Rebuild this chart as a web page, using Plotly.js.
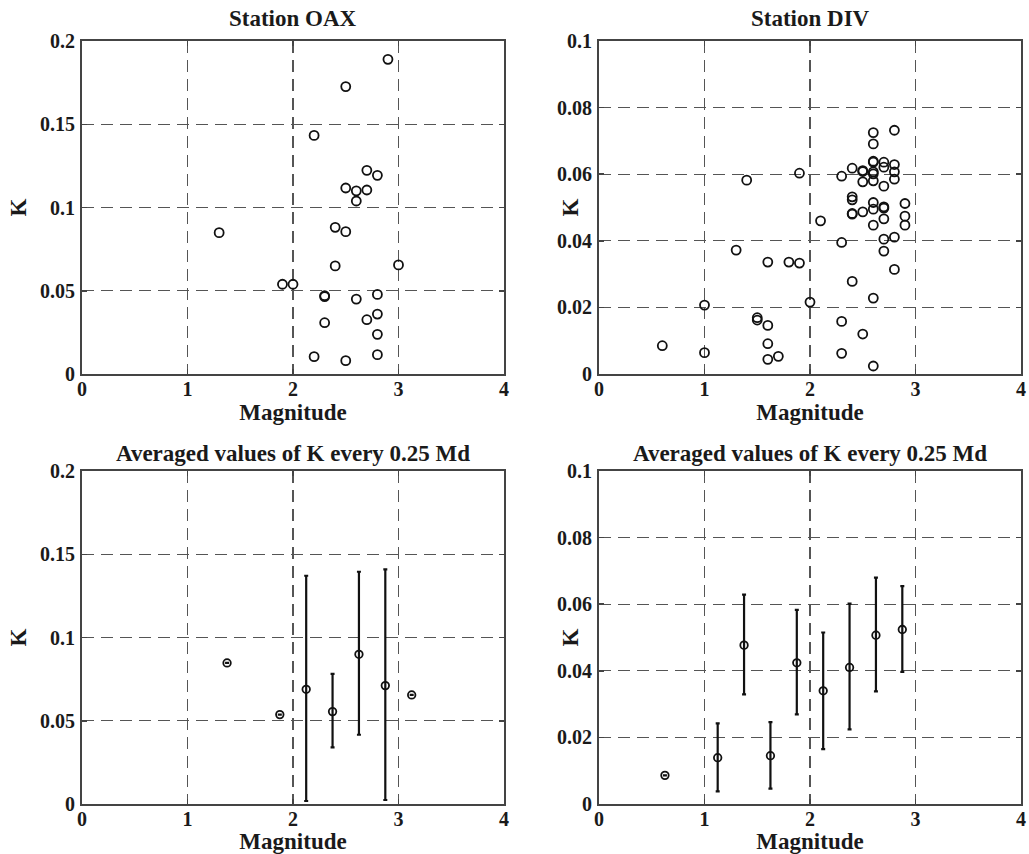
<!DOCTYPE html>
<html>
<head>
<meta charset="utf-8">
<script src="https://cdn.plot.ly/plotly-3.0.1.min.js"></script>
<style>html,body{margin:0;padding:0;background:#fff;}#chart{width:1029px;height:854px;}</style>
</head>
<body>
<div id="chart"></div>
<script>
// Station OAX: magnitude vs K
const oaxMag = [2.9, 2.5, 2.2, 2.7, 2.8, 2.5, 2.6, 2.7, 2.6, 1.3, 2.4, 2.5, 2.4, 3.0, 1.9, 2.0, 2.3, 2.3, 2.6, 2.8, 2.3, 2.7, 2.8, 2.8, 2.2, 2.5, 2.8];
const oaxK   = [0.189, 0.1726, 0.1433, 0.1223, 0.1193, 0.1117, 0.110, 0.1105, 0.1039, 0.0849, 0.0881, 0.0855, 0.0649, 0.0655, 0.0539, 0.0539, 0.0470, 0.0465, 0.045, 0.0478, 0.0308, 0.0326, 0.036, 0.0238, 0.0104, 0.008, 0.0116];

// Station DIV: magnitude vs K
const divMag = [0.6, 1.0, 1.0, 1.3, 1.4, 1.5, 1.5, 1.6, 1.6, 1.6, 1.6, 1.7, 1.8, 1.9, 1.9, 2.0, 2.1,
                2.3, 2.3, 2.3, 2.3, 2.4, 2.4, 2.4, 2.4, 2.4, 2.4, 2.5, 2.5, 2.5, 2.5, 2.5,
                2.6, 2.6, 2.6, 2.6, 2.6, 2.6, 2.6, 2.6, 2.6, 2.6, 2.6, 2.6,
                2.7, 2.7, 2.7, 2.7, 2.7, 2.7, 2.7, 2.7,
                2.8, 2.8, 2.8, 2.8, 2.8, 2.8, 2.9, 2.9, 2.9];
const divK   = [0.0085, 0.0207, 0.0064, 0.0372, 0.0582, 0.0169, 0.0162, 0.0146, 0.0336, 0.0091, 0.0044, 0.0053, 0.0336, 0.0333, 0.0603, 0.0216, 0.046,
                0.0594, 0.0395, 0.0158, 0.0062, 0.0618, 0.0532, 0.0523, 0.0482, 0.0480, 0.0278, 0.0611, 0.0608, 0.0577, 0.0487, 0.012,
                0.0725, 0.0691, 0.0639, 0.0636, 0.0607, 0.0601, 0.058, 0.0515, 0.0495, 0.0447, 0.0228, 0.0024,
                0.0636, 0.0621, 0.0564, 0.0502, 0.0498, 0.0466, 0.0405, 0.0369,
                0.0732, 0.0629, 0.0607, 0.0585, 0.0411, 0.0314, 0.0512, 0.0474, 0.0447];

// Averaged values every 0.25 Md (OAX)
const avgOaxMag   = [1.375, 1.875, 2.125, 2.375, 2.625, 2.875, 3.125];
const avgOaxK     = [0.0847, 0.0537, 0.0689, 0.0555, 0.0899, 0.0711, 0.0655];
const avgOaxPlus  = [0, 0, 0.0682, 0.0226, 0.0496, 0.0698, 0];
const avgOaxMinus = [0, 0, 0.0671, 0.0215, 0.0483, 0.0687, 0];

// Averaged values every 0.25 Md (DIV)
const avgDivMag   = [0.625, 1.125, 1.375, 1.625, 1.875, 2.125, 2.375, 2.625, 2.875];
const avgDivK     = [0.0086, 0.0139, 0.0477, 0.0145, 0.0424, 0.0340, 0.0410, 0.0507, 0.0524];
const avgDivPlus  = [0, 0.0103, 0.0152, 0.0101, 0.0159, 0.0175, 0.0192, 0.0173, 0.0130];
const avgDivMinus = [0, 0.0101, 0.0148, 0.0099, 0.0155, 0.0175, 0.0186, 0.0169, 0.0127];

const titles = ['Station OAX', 'Station DIV', 'Averaged values of K every 0.25 Md', 'Averaged values of K every 0.25 Md'];

const FONT = 'Liberation Serif, Times New Roman, serif';
const TXT = '#1a1a1a';

const rawMarker = {symbol: 'circle-open', size: 9, color: '#111', line: {width: 1.8, color: '#111'}};
const avgMarker = {symbol: 'circle-open', size: 7.5, color: '#111', line: {width: 1.8, color: '#111'}};

const traces = [
  {type: 'scatter', mode: 'markers', x: oaxMag, y: oaxK, xaxis: 'x', yaxis: 'y', marker: rawMarker, hoverinfo: 'x+y'},
  {type: 'scatter', mode: 'markers', x: divMag, y: divK, xaxis: 'x2', yaxis: 'y2', marker: rawMarker, hoverinfo: 'x+y'},
  {type: 'scatter', mode: 'markers', x: avgOaxMag, y: avgOaxK, xaxis: 'x3', yaxis: 'y3', marker: avgMarker,
   error_y: {type: 'data', symmetric: false, array: avgOaxPlus, arrayminus: avgOaxMinus, color: '#111', thickness: 2.2, width: 2}},
  {type: 'scatter', mode: 'markers', x: avgDivMag, y: avgDivK, xaxis: 'x4', yaxis: 'y4', marker: avgMarker,
   error_y: {type: 'data', symmetric: false, array: avgDivPlus, arrayminus: avgDivMinus, color: '#111', thickness: 2.2, width: 2}}
];

const W = 1029, H = 854;
const colX = [[82, 504], [599, 1021]];
const rowY = [[41, 374], [471, 804]];
const px2x = v => v / W;
const px2y = v => 1 - v / H;

function xAxis(col, row, anchor) {
  return {
    domain: [px2x(colX[col][0]), px2x(colX[col][1])],
    anchor: anchor,
    range: [0, 4], dtick: 1, tick0: 0,
    showline: true, mirror: 'ticks', linecolor: '#444', linewidth: 2,
    showgrid: true, gridcolor: '#555', gridwidth: 1.3, griddash: '12px,7px',
    zeroline: false, ticks: 'inside', ticklen: 5, tickcolor: '#444', tickwidth: 1.5,
    ticklabelstandoff: -4, ticklabeloverflow: 'allow',
    tickfont: {family: FONT, size: 20, weight: 'bold', color: TXT},
    title: {text: 'Magnitude', font: {family: FONT, size: 23, weight: 'bold', color: TXT}, standoff: 5},
    fixedrange: true
  };
}
function yAxis(col, row, anchor, maxV, step) {
  return {
    domain: [px2y(rowY[row][1]), px2y(rowY[row][0])],
    anchor: anchor,
    range: [0, maxV], dtick: step, tick0: 0,
    showline: true, mirror: 'ticks', linecolor: '#444', linewidth: 2,
    showgrid: true, gridcolor: '#555', gridwidth: 1.3, griddash: '12px,7px',
    zeroline: false, ticks: 'inside', ticklen: 5, tickcolor: '#444', tickwidth: 1.5,
    ticklabelstandoff: 1, ticklabeloverflow: 'allow',
    tickfont: {family: FONT, size: 20, weight: 'bold', color: TXT},
    fixedrange: true
  };
}

const annotations = [];
const titleY = [18, 453];
const kX = [18, 570];
for (let r = 0; r < 2; r++) {
  for (let c = 0; c < 2; c++) {
    const i = r * 2 + c;
    annotations.push({
      text: titles[i], xref: 'paper', yref: 'paper',
      x: px2x((colX[c][0] + colX[c][1]) / 2), y: px2y(titleY[r]),
      xanchor: 'center', yanchor: 'middle', showarrow: false,
      font: {family: FONT, size: 23, weight: 'bold', color: TXT}
    });
    annotations.push({
      text: 'K', xref: 'paper', yref: 'paper',
      x: px2x(kX[c]), y: px2y((rowY[r][0] + rowY[r][1]) / 2),
      xanchor: 'center', yanchor: 'middle', showarrow: false, textangle: -90,
      font: {family: FONT, size: 23, weight: 'bold', color: TXT}
    });
  }
}

const layout = {
  width: W, height: H,
  margin: {l: 0, r: 0, t: 0, b: 0},
  paper_bgcolor: '#fff', plot_bgcolor: '#fff',
  showlegend: false,
  xaxis:  xAxis(0, 0, 'y'),
  yaxis:  yAxis(0, 0, 'x', 0.2, 0.05),
  xaxis2: xAxis(1, 0, 'y2'),
  yaxis2: yAxis(1, 0, 'x2', 0.1, 0.02),
  xaxis3: xAxis(0, 1, 'y3'),
  yaxis3: yAxis(0, 1, 'x3', 0.2, 0.05),
  xaxis4: xAxis(1, 1, 'y4'),
  yaxis4: yAxis(1, 1, 'x4', 0.1, 0.02),
  annotations: annotations
};

Plotly.newPlot('chart', traces, layout, {displayModeBar: false, staticPlot: true});
</script>
</body>
</html>
